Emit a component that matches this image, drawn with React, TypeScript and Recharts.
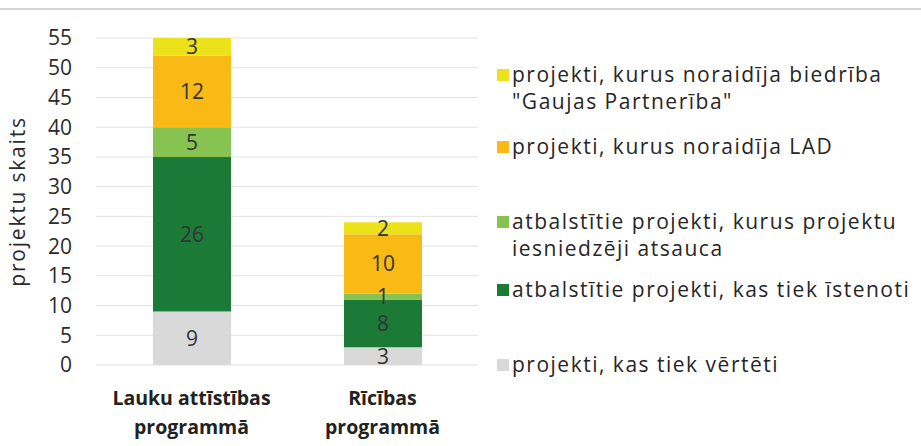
import { BarChart, Bar, XAxis, YAxis, CartesianGrid, LabelList } from "recharts";

const categories = ["Lauku attīstības programmā", "Rīcības programmā"];
const vertetiValues = [9, 3];
const istenotiValues = [26, 8];
const atsaucaValues = [5, 1];
const ladValues = [12, 10];
const biedribaValues = [3, 2];
const yTicks = [0, 5, 10, 15, 20, 25, 30, 35, 40, 45, 50, 55];

const series = [
  { key: "verteti", name: "projekti, kas tiek vērtēti", color: "#d9d9d9", values: vertetiValues },
  { key: "istenoti", name: "atbalstītie projekti, kas tiek īstenoti", color: "#1b7a36", values: istenotiValues },
  { key: "atsauca", name: "atbalstītie projekti, kurus projektu iesniedzēji atsauca", color: "#86c350", values: atsaucaValues },
  { key: "lad", name: "projekti, kurus noraidīja LAD", color: "#f9ba16", values: ladValues },
  { key: "biedriba", name: 'projekti, kurus noraidīja biedrība "Gaujas Partnerība"', color: "#ece21c", values: biedribaValues },
];

const data = categories.map((c, i) => {
  const row: Record<string, string | number> = { name: c };
  series.forEach((s) => (row[s.key] = s.values[i]));
  return row;
});

const font = "'Open Sans', 'Noto Sans', sans-serif";

const CategoryTick = (props: any) => {
  const { x, y, payload } = props;
  const text: string = payload.value;
  const cut = text.lastIndexOf(" ");
  const lines = [text.slice(0, cut), text.slice(cut + 1)];
  return (
    <g transform={`translate(${x},${y})`}>
      {lines.map((l, i) => (
        <text key={i} x={0} y={32 + i * 29} textAnchor="middle" fill="#222" fontSize={19.5} fontWeight={700} fontFamily={font}>
          {l}
        </text>
      ))}
    </g>
  );
};

const YLabel = (props: any) => {
  const vb = props.viewBox;
  const cx = vb.x - 3;
  const cy = vb.y + vb.height / 2;
  return (
    <text x={cx} y={cy} transform={`rotate(-90 ${cx} ${cy})`} textAnchor="middle" dominantBaseline="central" fill="#2b2b2b" fontSize={21} fontFamily={font} style={{ letterSpacing: "1.8px" }}>
      projektu skaits
    </text>
  );
};

// legend rows, top to bottom, with their y position
const legendRows = [
  { s: series[4], lines: ["projekti, kurus noraidīja biedrība", '"Gaujas Partnerība"'], y: 61 },
  { s: series[3], lines: ["projekti, kurus noraidīja LAD"], y: 133 },
  { s: series[2], lines: ["atbalstītie projekti, kurus projektu", "iesniedzēji atsauca"], y: 208 },
  { s: series[1], lines: ["atbalstītie projekti, kas tiek īstenoti"], y: 276 },
  { s: series[0], lines: ["projekti, kas tiek vērtēti"], y: 351 },
];

export default function App() {
  return (
    <div style={{ position: "absolute", left: 0, top: 0, width: 921, height: 446, background: "#fff", fontFamily: font }}>
      <div style={{ position: "absolute", left: 0, top: 8, width: 921, height: 2, background: "#d6d6d6" }} />
      <BarChart width={921} height={446} data={data} margin={{ top: 38, right: 443, bottom: 0, left: 20 }}>
        <CartesianGrid vertical={false} stroke="#e2e2e2" />
        <XAxis dataKey="name" axisLine={false} tickLine={false} tick={<CategoryTick />} interval={0} height={81} />
        <YAxis
          domain={[0, 55]}
          ticks={yTicks}
          interval={0}
          axisLine={false}
          tickLine={false}
          width={76}
          tick={{ fill: "#2b2b2b", fontSize: 21, fontFamily: font, dx: -16 }}
          label={<YLabel />}
        />
        {series.map((s) => (
          <Bar key={s.key} dataKey={s.key} name={s.name} stackId="a" fill={s.color} barSize={78} isAnimationActive={false}>
            <LabelList dataKey={s.key} position="center" fill="#333" fontSize={21} fontFamily={font} />
          </Bar>
        ))}
      </BarChart>
      {legendRows.map((r, i) => (
        <div key={i} style={{ position: "absolute", left: 497, top: r.y, fontSize: 21, lineHeight: "27px", color: "#262626", letterSpacing: "1.5px" }}>
          <span style={{ position: "absolute", left: 0, top: 8, width: 12, height: 12, background: r.s.color }} />
          {r.lines.map((l, j) => (
            <div key={j} style={{ paddingLeft: 15, whiteSpace: "nowrap" }}>{l}</div>
          ))}
        </div>
      ))}
    </div>
  );
}
